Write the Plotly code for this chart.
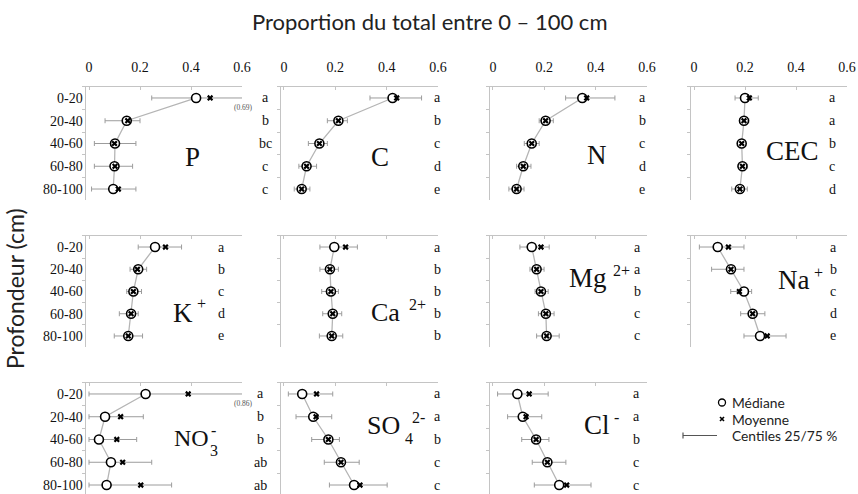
import plotly.graph_objects as go

W, H = 858, 494

profondeurs = ["0-20", "20-40", "40-60", "60-80", "80-100"]
graduations_x = [0, 0.2, 0.4, 0.6]
etiquettes_x = ["0", "0.2", "0.4", "0.6"]

# Proportion du total (0-100 cm) par horizon : médiane, moyenne, centiles 25/75
P_mediane = [0.42, 0.148, 0.102, 0.100, 0.095]
P_moyenne = [0.475, 0.152, 0.100, 0.102, 0.115]
P_c25 = [0.246, 0.063, 0.021, 0.021, 0.010]
P_c75 = [0.69, 0.200, 0.184, 0.171, 0.184]
P_groupes = ["a", "b", "bc", "c", "c"]

C_mediane = [0.423, 0.212, 0.138, 0.088, 0.069]
C_moyenne = [0.439, 0.212, 0.138, 0.088, 0.069]
C_c25 = [0.335, 0.169, 0.095, 0.058, 0.040]
C_c75 = [0.536, 0.247, 0.169, 0.127, 0.101]
C_groupes = ["a", "b", "c", "d", "e"]

N_mediane = [0.348, 0.205, 0.151, 0.118, 0.092]
N_moyenne = [0.365, 0.205, 0.151, 0.118, 0.092]
N_c25 = [0.283, 0.180, 0.122, 0.092, 0.062]
N_c75 = [0.475, 0.235, 0.180, 0.148, 0.121]
N_groupes = ["a", "b", "c", "d", "e"]

CEC_mediane = [0.200, 0.196, 0.187, 0.190, 0.180]
CEC_moyenne = [0.217, 0.196, 0.187, 0.190, 0.180]
CEC_c25 = [0.161, 0.180, 0.175, 0.175, 0.148]
CEC_c75 = [0.252, 0.215, 0.200, 0.210, 0.209]
CEC_groupes = ["a", "a", "b", "c", "d"]

K_mediane = [0.259, 0.193, 0.174, 0.165, 0.154]
K_moyenne = [0.300, 0.190, 0.174, 0.165, 0.154]
K_c25 = [0.193, 0.161, 0.148, 0.119, 0.099]
K_c75 = [0.363, 0.226, 0.206, 0.193, 0.210]
K_groupes = ["a", "b", "c", "d", "e"]

Ca_mediane = [0.196, 0.179, 0.183, 0.190, 0.186]
Ca_moyenne = [0.240, 0.179, 0.183, 0.190, 0.186]
Ca_c25 = [0.140, 0.140, 0.147, 0.151, 0.138]
Ca_c75 = [0.286, 0.212, 0.212, 0.225, 0.229]
Ca_groupes = ["a", "b", "b", "b", "b"]

Mg_mediane = [0.151, 0.170, 0.187, 0.206, 0.209]
Mg_moyenne = [0.187, 0.170, 0.187, 0.206, 0.209]
Mg_c25 = [0.105, 0.144, 0.164, 0.177, 0.170]
Mg_c75 = [0.219, 0.199, 0.215, 0.238, 0.258]
Mg_groupes = ["a", "a", "b", "c", "c"]

Na_mediane = [0.093, 0.145, 0.196, 0.230, 0.259]
Na_moyenne = [0.135, 0.145, 0.178, 0.230, 0.287]
Na_c25 = [0.021, 0.069, 0.144, 0.183, 0.196]
Na_c75 = [0.196, 0.196, 0.226, 0.278, 0.361]
Na_groupes = ["a", "b", "c", "d", "e"]

NO3_mediane = [0.222, 0.063, 0.039, 0.086, 0.069]
NO3_moyenne = [0.389, 0.124, 0.109, 0.132, 0.203]
NO3_c25 = [0.0, 0.0, 0.0, 0.0, 0.0]
NO3_c75 = [0.86, 0.213, 0.187, 0.246, 0.324]
NO3_groupes = ["a", "b", "b", "ab", "ab"]

SO4_mediane = [0.071, 0.114, 0.173, 0.222, 0.273]
SO4_moyenne = [0.127, 0.125, 0.173, 0.222, 0.296]
SO4_c25 = [0.017, 0.047, 0.108, 0.157, 0.177]
SO4_c75 = [0.190, 0.186, 0.216, 0.293, 0.402]
SO4_groupes = ["a", "a", "b", "c", "c"]

Cl_mediane = [0.095, 0.116, 0.168, 0.212, 0.258]
Cl_moyenne = [0.141, 0.129, 0.168, 0.212, 0.287]
Cl_c25 = [0.018, 0.057, 0.112, 0.153, 0.161]
Cl_c75 = [0.215, 0.190, 0.218, 0.284, 0.382]
Cl_groupes = ["a", "a", "b", "c", "c"]

# ---- mise en page (pixels -> coordonnées papier) ----
def xp(px):
    return px / W

def yp(py):
    return 1 - py / H

# bornes horizontales des colonnes (axe de -0.01 à 0.6)
colonnes = [(86.45, 242.0), (281.4, 438.0), (490.4, 647.0), (691.45, 847.0)]
# bornes verticales des lignes et borne basse de l'axe des catégories
lignes = [(86.6, 200.4, 4.5), (235.9, 347.1, 4.5), (382.6, 494.0, 4.395)]

SERIF = "Liberation Serif, Times New Roman, serif"
SANS = "Lato, Open Sans, sans-serif"
GRIS_AXE = "#c4c4c4"
GRIS_BARRE = "#9c9c9c"
GRIS_LIGNE = "#b5b5b5"

# (ligne, colonne, médiane, moyenne, c25, c75, groupes, x lettres, libellés)
panneaux = [
    (0, 0, P_mediane, P_moyenne, P_c25, P_c75, P_groupes, 265,
     [("P", 192, 157, 27)]),
    (0, 1, C_mediane, C_moyenne, C_c25, C_c75, C_groupes, 437,
     [("C", 380, 157, 27)]),
    (0, 2, N_mediane, N_moyenne, N_c25, N_c75, N_groupes, 642,
     [("N", 597, 155, 27)]),
    (0, 3, CEC_mediane, CEC_moyenne, CEC_c25, CEC_c75, CEC_groupes, 832,
     [("CEC", 792, 151, 27)]),
    (1, 0, K_mediane, K_moyenne, K_c25, K_c75, K_groupes, 221,
     [("K", 183, 313, 27), ("+", 201, 303, 16)]),
    (1, 1, Ca_mediane, Ca_moyenne, Ca_c25, Ca_c75, Ca_groupes, 437,
     [("Ca", 385, 312, 26), ("2+", 417, 304, 16)]),
    (1, 2, Mg_mediane, Mg_moyenne, Mg_c25, Mg_c75, Mg_groupes, 637,
     [("Mg", 588, 278, 27), ("2+", 621, 270, 16)]),
    (1, 3, Na_mediane, Na_moyenne, Na_c25, Na_c75, Na_groupes, 833,
     [("Na", 793, 280, 27), ("+", 818, 272, 16)]),
    (2, 0, NO3_mediane, NO3_moyenne, NO3_c25, NO3_c75, NO3_groupes, 260,
     [("NO", 191, 438, 24), ("-", 213, 430, 16), ("3", 214, 450, 16)]),
    (2, 1, SO4_mediane, SO4_moyenne, SO4_c25, SO4_c75, SO4_groupes, 437,
     [("SO", 383, 425, 26), ("2-", 418, 417, 16), ("4", 409, 438, 16)]),
    (2, 2, Cl_mediane, Cl_moyenne, Cl_c25, Cl_c75, Cl_groupes, 636,
     [("Cl", 597, 425, 27), ("-", 616, 417, 16)]),
]

fig = go.Figure()
annotations = []
shapes = []
axes = {}

for k, (r, c, med, moy, c25, c75, groupes, x_lettres, libelles) in enumerate(panneaux, start=1):
    xa = "x" if k == 1 else f"x{k}"
    ya = "y" if k == 1 else f"y{k}"
    suffixe = "" if k == 1 else str(k)
    x0, x1 = colonnes[c]
    yt, yb, ybas = lignes[r]

    fig.add_trace(go.Scatter(
        x=med, y=profondeurs, xaxis=xa, yaxis=ya,
        mode="lines+markers",
        line=dict(color=GRIS_LIGNE, width=1.3),
        marker=dict(symbol="circle", size=9, color="white",
                    line=dict(color="black", width=1.6)),
        error_x=dict(type="data", symmetric=False,
                     array=[h - m for h, m in zip(c75, med)],
                     arrayminus=[m - b for m, b in zip(med, c25)],
                     color=GRIS_BARRE, thickness=1, width=2.5),
        showlegend=False, hoverinfo="skip",
    ))
    fig.add_trace(go.Scatter(
        x=moy, y=profondeurs, xaxis=xa, yaxis=ya,
        mode="markers",
        marker=dict(symbol="x", size=5.5, color="black",
                    line=dict(width=0)),
        showlegend=False, hoverinfo="skip",
    ))

    axes[f"xaxis{suffixe}"] = dict(
        domain=[xp(x0), xp(x1)], range=[-0.01, 0.6], anchor=ya, side="top",
        automargin=False,
        showline=True, linecolor=GRIS_AXE, linewidth=1,
        showgrid=False, zeroline=False,
        tickmode="array", tickvals=graduations_x, ticktext=etiquettes_x,
        ticks="inside", ticklen=3, tickcolor=GRIS_AXE,
        showticklabels=(r == 0), ticklabelstandoff=8,
        tickfont=dict(family=SERIF, size=14, color="#111"),
    )
    axes[f"yaxis{suffixe}"] = dict(
        domain=[yp(yb), yp(yt)], range=[ybas, -0.5], anchor=xa,
        automargin=False,
        type="category", categoryorder="array", categoryarray=profondeurs,
        showline=True, linecolor=GRIS_AXE, linewidth=1,
        showgrid=False, zeroline=False,
        ticks="outside", tickson="boundaries", ticklen=3, tickcolor=GRIS_AXE,
        showticklabels=(c == 0),
        tickfont=dict(family=SERIF, size=14, color="#111"),
    )

    for prof, g in zip(profondeurs, groupes):
        annotations.append(dict(
            x=xp(x_lettres), xref="paper", y=prof, yref=ya,
            text=g, showarrow=False, xanchor="center", yanchor="middle",
            font=dict(family=SERIF, size=14, color="#111"),
        ))
    for texte, lx, ly, taille in libelles:
        annotations.append(dict(
            x=xp(lx), xref="paper", y=yp(ly), yref="paper",
            text=texte, showarrow=False, xanchor="center", yanchor="middle",
            font=dict(family=SERIF, size=taille, color="#111"),
        ))

# valeurs des centiles 75 % tronqués par l'échelle
annotations.append(dict(x=xp(244), xref="paper", y=yp(107), yref="paper",
                        text=f"({P_c75[0]:.2f})", showarrow=False,
                        xanchor="center", yanchor="middle",
                        font=dict(family=SERIF, size=7.5, color="#555")))
annotations.append(dict(x=xp(244), xref="paper", y=yp(403), yref="paper",
                        text=f"({NO3_c75[0]:.2f})", showarrow=False,
                        xanchor="center", yanchor="middle",
                        font=dict(family=SERIF, size=7.5, color="#555")))

# titres
annotations.append(dict(x=xp(429), xref="paper", y=yp(22), yref="paper",
                        text="Proportion du total entre 0 – 100 cm", showarrow=False,
                        xanchor="center", yanchor="middle",
                        font=dict(family=SANS, size=22, color="#222")))
annotations.append(dict(x=xp(15), xref="paper", y=yp(289), yref="paper",
                        text="Profondeur (cm)", textangle=-90, showarrow=False,
                        xanchor="center", yanchor="middle",
                        font=dict(family=SANS, size=23, color="#222")))

# légende
y_leg = [402.5, 419.0, 435.5]
shapes.append(dict(type="circle", xref="paper", yref="paper",
                   x0=xp(718.5), x1=xp(725.5), y0=yp(y_leg[0] + 3.5), y1=yp(y_leg[0] - 3.5),
                   line=dict(color="black", width=1.3), fillcolor="white"))
shapes.append(dict(type="line", xref="paper", yref="paper",
                   x0=xp(720), x1=xp(724), y0=yp(y_leg[1] - 2), y1=yp(y_leg[1] + 2),
                   line=dict(color="black", width=1.6)))
shapes.append(dict(type="line", xref="paper", yref="paper",
                   x0=xp(720), x1=xp(724), y0=yp(y_leg[1] + 2), y1=yp(y_leg[1] - 2),
                   line=dict(color="black", width=1.6)))
shapes.append(dict(type="line", xref="paper", yref="paper",
                   x0=xp(683), x1=xp(717), y0=yp(y_leg[2]), y1=yp(y_leg[2]),
                   line=dict(color="#555", width=1.2)))
shapes.append(dict(type="line", xref="paper", yref="paper",
                   x0=xp(683), x1=xp(683), y0=yp(y_leg[2] - 3), y1=yp(y_leg[2] + 3),
                   line=dict(color="#555", width=1.2)))
for texte, ly in zip(["Médiane", "Moyenne", "Centiles 25/75 %"], y_leg):
    annotations.append(dict(x=xp(731), xref="paper", y=yp(ly), yref="paper",
                            text=texte, showarrow=False, xanchor="left",
                            yanchor="middle", borderpad=0,
                            font=dict(family=SANS, size=13.8, color="#222")))

fig.update_layout(
    width=W, height=H, margin=dict(l=0, r=0, t=0, b=0, autoexpand=False),
    paper_bgcolor="white", plot_bgcolor="white",
    annotations=annotations, shapes=shapes, **axes,
)

fig.write_html("out.html")
